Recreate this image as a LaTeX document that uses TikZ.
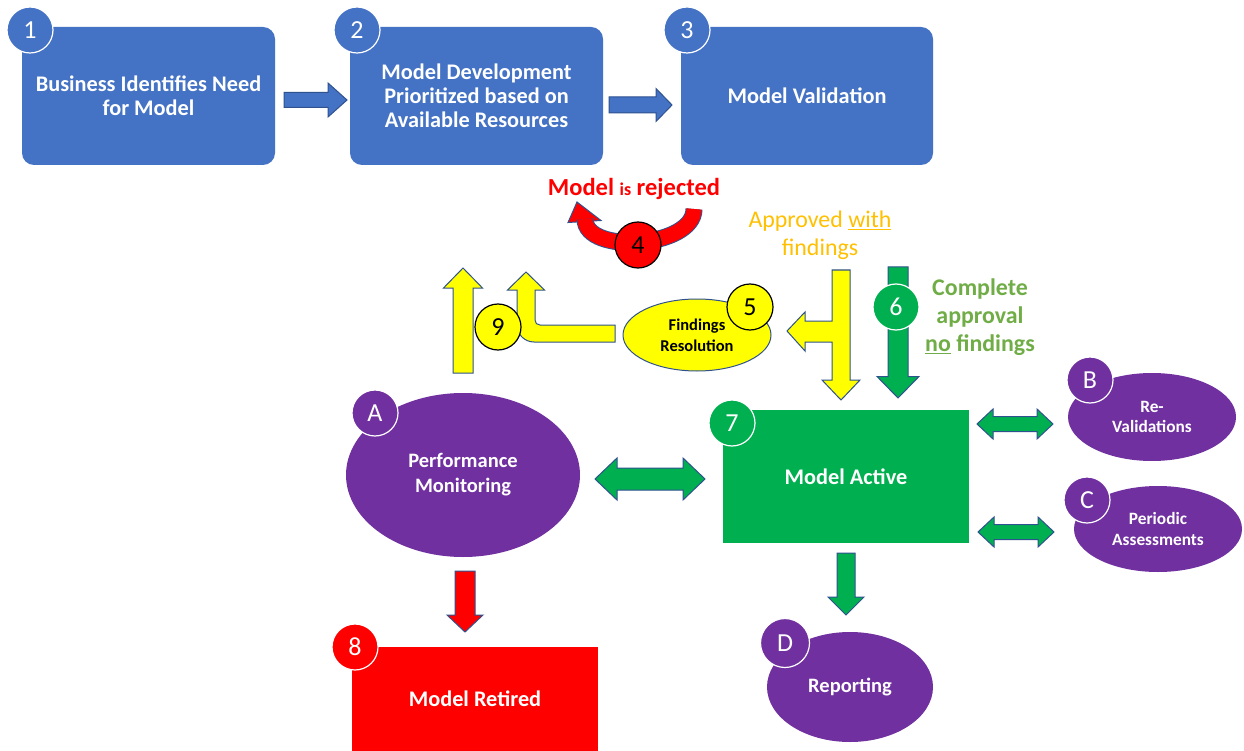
\documentclass[tikz,border=0pt]{standalone}
\usepackage{fontspec}
\setmainfont{Carlito}
\usetikzlibrary{shapes.geometric}
\definecolor{boxblue}{HTML}{4472C4}
\definecolor{edgeblue}{HTML}{2F528F}
\definecolor{mgreen}{HTML}{00B050}
\definecolor{mpurple}{HTML}{7030A0}
\definecolor{mred}{HTML}{FF0000}
\definecolor{myellow}{HTML}{FFFF00}
\definecolor{gold}{HTML}{FFC000}
\definecolor{lgreen}{HTML}{70AD47}
\newcommand{\rArrow}[7]{\filldraw[#1] (#2,#4-#5) -- (#3-#7,#4-#5) -- (#3-#7,#4-#6) -- (#3,#4) -- (#3-#7,#4+#6) -- (#3-#7,#4+#5) -- (#2,#4+#5) -- cycle;}
\newcommand{\vArrow}[7]{\filldraw[#1] (#2-#5,#3) -- (#2+#5,#3) -- (#2+#5,#4-#7) -- (#2+#6,#4-#7) -- (#2,#4) -- (#2-#6,#4-#7) -- (#2-#5,#4-#7) -- cycle;}
\newcommand{\lrArrow}[7]{\filldraw[#1] (#2,#4) -- (#2+#7,#4-#6) -- (#2+#7,#4-#5) -- (#3-#7,#4-#5) -- (#3-#7,#4-#6) -- (#3,#4) -- (#3-#7,#4+#6) -- (#3-#7,#4+#5) -- (#2+#7,#4+#5) -- (#2+#7,#4+#6) -- cycle;}
\tikzset{
  bigbox/.style={fill=boxblue, rounded corners=12pt, text=white, align=center, inner sep=0pt,
    font=\fontsize{22.3}{24}\selectfont\bfseries},
  flatbox/.style={inner sep=0pt, text=white, align=center, font=\fontsize{22.3}{24}\selectfont\bfseries},
  badge/.style={circle, minimum size=46pt, inner sep=0pt, draw=white, line width=1.2pt, text=white,
    font=\fontsize{26}{26}\selectfont},
  dbadge/.style={badge, draw=black, text=black},
  oval/.style={ellipse, fill=mpurple, text=white, inner sep=0pt, align=center,
    font=\fontsize{20.5}{25}\selectfont\bfseries},
  soval/.style={oval, font=\fontsize{17.3}{20.5}\selectfont\bfseries},
  barrow/.style={draw=edgeblue, line width=1pt, line join=miter},
}
\begin{document}
\begin{tikzpicture}[x=1pt,y=-1pt]
\useasboundingbox (0,0) rectangle (1244,751);
\fill[white] (0,0) rectangle (1244,751);

% top boxes
\node[bigbox, minimum width=253pt, minimum height=138pt] (b1) at (148.5,96) {Business Identifies Need\\for Model};
\node[bigbox, minimum width=253pt, minimum height=138pt] (b2) at (476.5,96) {Model Development\\Prioritized based on\\Available Resources};
\node[bigbox, minimum width=252pt, minimum height=138pt] (b3) at (807,96) {Model Validation};

% arrows between top boxes
\rArrow{barrow, fill=boxblue}{284}{347}{100}{7.5}{17}{19}
\rArrow{barrow, fill=boxblue}{609}{672}{105}{8}{16.5}{16}

% rejected curved arrow
\filldraw[barrow, fill=mred] (577,202) -- (601,220.5) -- (568,222.5) -- cycle;
\draw[draw=edgeblue, line width=1pt, double=mred, double distance=15pt] (694,209) .. controls (694,248) and (585,255) .. (585,219);
\node[text=mred, font=\fontsize{24.5}{28}\selectfont\bfseries] (rej) at (634,189) {Model {\fontsize{18}{20}\selectfont is} rejected};

% approved with findings
\node[text=gold, align=center, font=\fontsize{23.9}{28}\selectfont] (apr) at (820,235) {Approved \underline{with}\\findings};
\node[text=lgreen, align=center, font=\fontsize{23.9}{28}\selectfont\bfseries] (cmp) at (980,317) {Complete\\approval\\\underline{no} findings};

% yellow left-down arrow
\filldraw[barrow, fill=myellow] (832,270) -- (850,270) -- (850,380) -- (860,380) -- (841,400) -- (822,380) -- (832,380) -- (832,342) -- (805,342) -- (805,351) -- (787,331) -- (805,312) -- (805,321) -- (832,321) -- cycle;

% green down arrow (complete approval)
\vArrow{barrow, fill=mgreen}{898}{267}{398}{10}{21}{21.5}

% findings resolution
\node[ellipse, fill=myellow, draw=edgeblue, line width=1pt, minimum width=148pt, minimum height=72pt, inner sep=0pt, align=center, font=\fontsize{16.5}{21}\selectfont\bfseries] (fr) at (697,335) {Findings\\Resolution};

% yellow bent arrow
\filldraw[barrow, fill=myellow] (615,325) -- (540,325) .. controls (537,325) and (535,323) .. (535,320) -- (535,290) -- (544.5,290) -- (526,272) -- (507.5,290) -- (517,290) -- (517,325) .. controls (517,334.4) and (524.6,342) .. (534,342) -- (615,342) -- cycle;
% yellow up arrow
\vArrow{barrow, fill=myellow}{463}{373}{268}{10}{19.5}{-20}

% purple ellipses
\node[oval, minimum width=234pt, minimum height=164pt] (pm) at (463,475) {Performance\\Monitoring};
\node[oval, minimum width=166pt, minimum height=110pt] (rep) at (850,687) {Reporting};
\node[soval, minimum width=168pt, minimum height=88pt] (rv) at (1152,417) {Re-\\Validations};
\node[soval, minimum width=168pt, minimum height=86pt] (pa) at (1158,529) {Periodic\\Assessments};

% model active / retired
\node[flatbox, fill=mgreen, minimum width=246pt, minimum height=133pt] (act) at (846,476.5) {Model Active};
\node[flatbox, fill=mred, minimum width=246pt, minimum height=104pt] (ret) at (475,699) {Model Retired};

% green double arrows
\lrArrow{barrow, fill=mgreen}{595}{705}{479}{11}{21}{22}
\lrArrow{barrow, fill=mgreen}{977}{1053}{424}{7.5}{15}{16}
\lrArrow{barrow, fill=mgreen}{978}{1054}{532}{7.5}{15}{16}
% down arrows
\vArrow{barrow, fill=mred}{465}{571}{632}{10}{18}{17}
\vArrow{barrow, fill=mgreen}{846}{553}{615}{9}{18}{18}

% badges
\node[badge, fill=boxblue] (n1) at (30,30) {1};
\node[badge, fill=boxblue] (n2) at (357,30) {2};
\node[badge, fill=boxblue] (n3) at (687,30) {3};
\node[dbadge, fill=mred] (n4) at (638,245) {4};
\node[dbadge, fill=myellow] (n5) at (750,307) {5};
\node[badge, fill=mgreen] (n6) at (896,307) {6};
\node[badge, fill=mgreen] (n7) at (732,423) {7};
\node[badge, fill=mred] (n8) at (355,647) {8};
\node[dbadge, fill=myellow] (n9) at (498,327) {9};
\node[badge, fill=mpurple] (na) at (375,413) {A};
\node[badge, fill=mpurple] (nb) at (1090,380) {B};
\node[badge, fill=mpurple] (nc) at (1087,500) {C};
\node[badge, fill=mpurple, minimum size=49pt] (nd) at (785,643) {D};
\end{tikzpicture}
\end{document}
